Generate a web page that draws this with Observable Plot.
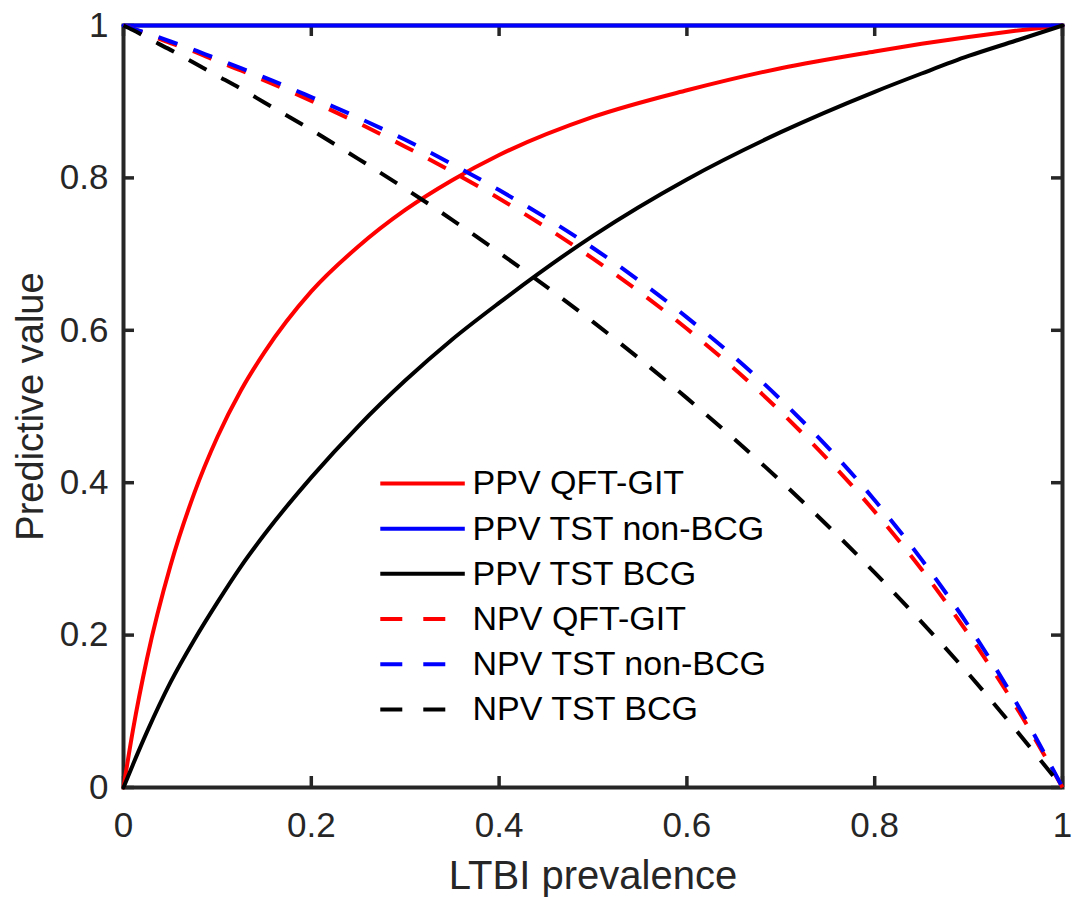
<!DOCTYPE html>
<html><head><meta charset="utf-8">
<script src="https://cdn.jsdelivr.net/npm/d3@7"></script>
<script src="https://cdn.jsdelivr.net/npm/@observablehq/plot@0.6"></script>
<style>body{margin:0;background:#fff;}</style>
</head><body><div id="chart"></div>
<script>
// LTBI prevalence grid
const prevalence = [0, 0.01, 0.025, 0.05, 0.075, 0.1, 0.125, 0.15, 0.2, 0.25, 0.3, 0.35, 0.4, 0.5, 0.6, 0.7, 0.8, 0.85, 0.9, 0.95, 1];
const ppvQft    = [0, 0.075, 0.169, 0.291, 0.385, 0.460, 0.521, 0.571, 0.651, 0.710, 0.758, 0.797, 0.830, 0.880, 0.915, 0.944, 0.966, 0.976, 0.985, 0.993, 1];
const ppvNonBcg = [1, 1, 1, 1, 1, 1, 1, 1, 1, 1, 1, 1, 1, 1, 1, 1, 1, 1, 1, 1, 1];
const ppvBcg    = [0, 0.030, 0.073, 0.138, 0.193, 0.243, 0.290, 0.332, 0.407, 0.474, 0.534, 0.588, 0.636, 0.724, 0.798, 0.860, 0.913, 0.937, 0.960, 0.980, 1];
const npvQft    = [1, 0.996, 0.989, 0.977, 0.966, 0.953, 0.941, 0.928, 0.901, 0.872, 0.841, 0.808, 0.773, 0.694, 0.602, 0.493, 0.362, 0.286, 0.201, 0.107, 0];
const npvNonBcg = [1, 0.996, 0.990, 0.979, 0.968, 0.956, 0.944, 0.932, 0.906, 0.879, 0.850, 0.818, 0.784, 0.708, 0.617, 0.509, 0.377, 0.299, 0.212, 0.113, 0];
const npvBcg    = [1, 0.994, 0.984, 0.968, 0.951, 0.934, 0.917, 0.899, 0.863, 0.825, 0.786, 0.745, 0.702, 0.611, 0.511, 0.402, 0.282, 0.217, 0.149, 0.076, 0];

const seriesNames = ["PPV QFT-GIT", "PPV TST non-BCG", "PPV TST BCG", "NPV QFT-GIT", "NPV TST non-BCG", "NPV TST BCG"];
const xTicks = [0, 0.2, 0.4, 0.6, 0.8, 1];
const yTicks = [0, 0.2, 0.4, 0.6, 0.8, 1];
const xLabel = "LTBI prevalence";
const yLabel = "Predictive value";

const seriesValues = [ppvQft, ppvNonBcg, ppvBcg, npvQft, npvNonBcg, npvBcg];
const seriesColors = ["#ff0000", "#0000ff", "#000000", "#ff0000", "#0000ff", "#000000"];
const seriesDashed = [false, false, false, true, true, true];

const rows = seriesNames.flatMap((name, i) =>
  prevalence.map((p, j) => ({series: name, idx: i, p, v: seriesValues[i][j]})));

const axisColor = "#262626";
const fmt = d3.format("~g");

// legend layout (fractions of the axes)
const legX1 = 0.274, legX2 = 0.364, legXText = 0.3717, legTop = 0.399, legStep = 0.0593;
const legend = seriesNames.map((name, i) => ({name, i, y: legTop - i * legStep}));

const tickLenX = 11 / 762, tickLenY = 11 / 939;

const marks = [
  Plot.frame({stroke: axisColor, strokeWidth: 4}),
  // inward ticks on all four sides
  Plot.ruleX(xTicks, {x: d => d, y1: 0, y2: tickLenX, stroke: axisColor, strokeWidth: 3.5}),
  Plot.ruleX(xTicks, {x: d => d, y1: 1, y2: 1 - tickLenX, stroke: axisColor, strokeWidth: 3.5}),
  Plot.ruleY(yTicks, {y: d => d, x1: 0, x2: tickLenY, stroke: axisColor, strokeWidth: 3.5}),
  Plot.ruleY(yTicks, {y: d => d, x1: 1, x2: 1 - tickLenY, stroke: axisColor, strokeWidth: 3.5}),
  Plot.axisX(xTicks, {tickSize: 0, tickPadding: 25, fontSize: 35, fill: axisColor, tickFormat: fmt, label: null}),
  Plot.axisY(yTicks, {tickSize: 0, tickPadding: 15, fontSize: 35, fill: axisColor, tickFormat: fmt, label: null}),
  Plot.text([xLabel], {text: d => d, frameAnchor: "bottom", dy: 89, fontSize: 40, fill: axisColor, textAnchor: "middle", lineAnchor: "middle"}),
  Plot.text([yLabel], {text: d => d, frameAnchor: "left", dx: -93, rotate: -90, fontSize: 38, fill: axisColor, textAnchor: "middle", lineAnchor: "middle"})
];

seriesNames.forEach((name, i) => {
  marks.push(Plot.line(rows.filter(d => d.idx === i), {
    x: "p", y: "v", stroke: seriesColors[i], strokeWidth: 4,
    strokeDasharray: seriesDashed[i] ? "20,17" : null,
    strokeLinecap: seriesDashed[i] ? "butt" : "round",
    curve: "monotone-x"
  }));
});

legend.forEach(d => {
  marks.push(Plot.ruleY([d], {y: "y", x1: legX1, x2: legX2, stroke: seriesColors[d.i], strokeWidth: 4,
    strokeDasharray: seriesDashed[d.i] ? "22,21" : null, strokeLinecap: "butt"}));
});
marks.push(Plot.text(legend, {x: legXText, y: "y", text: "name", textAnchor: "start", lineAnchor: "middle", fontSize: 34, fill: "#000"}));

const chart = Plot.plot({
  width: 1073, height: 897,
  marginLeft: 123, marginRight: 11, marginTop: 25, marginBottom: 110,
  x: {domain: [0, 1]},
  y: {domain: [0, 1]},
  style: {fontFamily: "'Liberation Sans', Arial, sans-serif", background: "#fff", color: axisColor},
  marks
});
document.getElementById("chart").appendChild(chart);
</script>
</body></html>
